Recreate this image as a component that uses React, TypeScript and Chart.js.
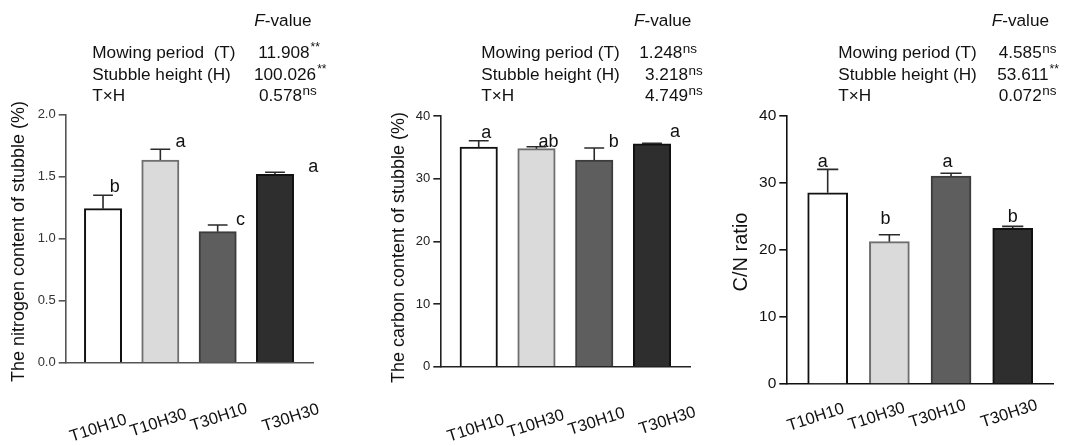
import { useEffect, useRef } from "react";
import { Chart, registerables } from "chart.js";

Chart.register(...registerables);

const FONT = '"Liberation Sans", Arial, Helvetica, sans-serif';
const PAGE_H = 446;

// ---------- data ----------
const categories = ["T10H10", "T10H30", "T30H10", "T30H30"];

const nitrogenValues = [1.24, 1.632, 1.055, 1.517];
const nitrogenErrors = [0.108, 0.086, 0.054, 0.016];
const nitrogenLetters = ["b", "a", "c", "a"];

const carbonValues = [35.06, 34.79, 32.98, 35.54];
const carbonErrors = [1.0, 0.31, 1.92, 0.11];
const carbonLetters = ["a", "ab", "b", "a"];

const cnValues = [28.55, 21.24, 31.04, 23.24];
const cnErrors = [3.49, 1.04, 0.41, 0.29];
const cnLetters = ["a", "b", "a", "b"];

const nitrogenFactors = ["Mowing period  (T)", "Stubble height (H)", "T×H"];
const nitrogenF = ["11.908", "100.026", "0.578"];
const nitrogenSig = ["**", "**", "ns"];

const carbonFactors = ["Mowing period (T)", "Stubble height (H)", "T×H"];
const carbonF = ["1.248", "3.218", "4.749"];
const carbonSig = ["ns", "ns", "ns"];

const cnFactors = ["Mowing period (T)", "Stubble height (H)", "T×H"];
const cnF = ["4.585", "53.611", "0.072"];
const cnSig = ["ns", "**", "ns"];

const nitrogenTicks = { max: 2, step: 0.5, decimals: 1 };
const carbonTicks = { max: 40, step: 10, decimals: 0 };
const cnTicks = { max: 40, step: 10, decimals: 0 };

// ---------- styles ----------
const barFills = ["#ffffff", "#dadada", "#5e5e5e", "#2e2e2e"];
const barBorders = ["#111111", "#6e6e6e", "#3c3c3c", "#111111"];

type Panel = {
  offsetX: number;
  canvasW: number;
  left: number;
  right: number;
  top: number;
  bottom: number;
  xMin: number;
  xMax: number;
  barW: number;
  ticks: { max: number; step: number; decimals: number };
  tickFont: number;
  tickColor: string;
  axisColor: string;
  title: string;
  titleX: number;
  titleY: number;
  titleFont: number;
  values: number[];
  errors: number[];
  letters: string[];
  letterOffsets: number[][];
  labelOffsets: number[][];
  factors: string[];
  fvals: string[];
  sigs: string[];
  labelX: number;
  fX: number;
  valueX: number[];
};

const panels: Panel[] = [
  {
    offsetX: 0,
    canvasW: 360,
    left: 65.7,
    right: 313,
    top: 114.3,
    bottom: 362.7,
    xMin: -0.651,
    xMax: 3.663,
    barW: 37.3,
    ticks: nitrogenTicks,
    tickFont: 13,
    tickColor: "#333",
    axisColor: "#555",
    title: "The nitrogen content of stubble (%)",
    titleX: 19.5,
    titleY: 241.5,
    titleFont: 18,
    values: nitrogenValues,
    errors: nitrogenErrors,
    letters: nitrogenLetters,
    letterOffsets: [[11.7, -3.6], [20.1, -2], [22.8, 0], [38.3, -0.6]],
    labelOffsets: [[-4.7, 65.6], [-1.9, 60.3], [1.3, 54.8], [15.8, 55.3]],
    factors: nitrogenFactors,
    fvals: nitrogenF,
    sigs: nitrogenSig,
    labelX: 92.3,
    fX: 254.3,
    valueX: [258.3, 254, 259],
  },
  {
    offsetX: 360,
    canvasW: 350,
    left: 80.3,
    right: 330.7,
    top: 116,
    bottom: 366.7,
    xMin: -0.665,
    xMax: 3.67,
    barW: 37.5,
    ticks: carbonTicks,
    tickFont: 13,
    tickColor: "#222",
    axisColor: "#222",
    title: "The carbon content of stubble (%)",
    titleX: 39.5,
    titleY: 247.5,
    titleFont: 18,
    values: carbonValues,
    errors: carbonErrors,
    letters: carbonLetters,
    letterOffsets: [[7.5, -3], [12, 0.6], [19.6, -0.7], [23, -6]],
    labelOffsets: [[-2.9, 61.6], [-0.5, 57.3], [2.5, 55], [15.5, 54.1]],
    factors: carbonFactors,
    fvals: carbonF,
    sigs: carbonSig,
    labelX: 121.3,
    fX: 274,
    valueX: [279.3, 285, 285],
  },
  {
    offsetX: 710,
    canvasW: 357,
    left: 76.3,
    right: 343.3,
    top: 116,
    bottom: 384,
    xMin: -0.671,
    xMax: 3.658,
    barW: 40,
    ticks: cnTicks,
    tickFont: 15.5,
    tickColor: "#111",
    axisColor: "#111",
    title: "C/N ratio",
    titleX: 31.5,
    titleY: 252,
    titleFont: 20,
    values: cnValues,
    errors: cnErrors,
    letters: cnLetters,
    letterOffsets: [[-4.9, -2.6], [-3.8, -10.7], [-3.5, -6.6], [0.1, -4.6]],
    labelOffsets: [[-11.9, 33.5], [-12.6, 32.7], [-13.3, 30], [-3.5, 30]],
    factors: cnFactors,
    fvals: cnF,
    sigs: cnSig,
    labelX: 128.3,
    fX: 281.7,
    valueX: [288.7, 287.3, 288.7],
  },
];

const TABLE_F_BASE = 26;
const TABLE_ROW_BASE = [58.3, 80, 100.7];
const TABLE_FONT = 17.2;
const TEXT_COLOR = "#111";

function decorPlugin(p: Panel) {
  return {
    id: "decor",
    afterDatasetsDraw(chart: any) {
      const ctx = chart.ctx as CanvasRenderingContext2D;
      const xs = chart.scales.x;
      const ys = chart.scales.y;
      ctx.save();
      ctx.strokeStyle = "#2a2a2a";
      ctx.lineWidth = 1.6;
      p.values.forEach((v, i) => {
        const x = xs.getPixelForValue(i);
        const top = ys.getPixelForValue(v);
        const et = ys.getPixelForValue(v + p.errors[i]);
        const cap = p.barW * 0.53;
        ctx.beginPath();
        ctx.moveTo(x, top);
        ctx.lineTo(x, et);
        ctx.moveTo(x - cap / 2, et);
        ctx.lineTo(x + cap / 2, et);
        ctx.stroke();
      });
      ctx.restore();
    },
    afterDraw(chart: any) {
      const ctx = chart.ctx as CanvasRenderingContext2D;
      const xs = chart.scales.x;
      const ys = chart.scales.y;
      const area = chart.chartArea;
      ctx.save();
      ctx.fillStyle = TEXT_COLOR;

      // significance letters
      ctx.font = `18px ${FONT}`;
      ctx.textAlign = "center";
      ctx.textBaseline = "alphabetic";
      p.letters.forEach((l, i) => {
        const x = xs.getPixelForValue(i);
        const et = ys.getPixelForValue(p.values[i] + p.errors[i]);
        ctx.fillText(l, x + p.letterOffsets[i][0], et + p.letterOffsets[i][1]);
      });

      // x category labels (rotated)
      ctx.font = `16.5px ${FONT}`;
      ctx.textBaseline = "middle";
      categories.forEach((c, i) => {
        const x = xs.getPixelForValue(i) + p.labelOffsets[i][0];
        const y = area.bottom + p.labelOffsets[i][1];
        ctx.save();
        ctx.translate(x, y);
        ctx.rotate((-18 * Math.PI) / 180);
        ctx.fillText(c, 0, 0);
        ctx.restore();
      });

      // y axis title
      ctx.save();
      ctx.font = `${p.titleFont}px ${FONT}`;
      ctx.translate(p.titleX, p.titleY);
      ctx.rotate(-Math.PI / 2);
      ctx.textAlign = "center";
      ctx.textBaseline = "middle";
      ctx.fillText(p.title, 0, 0);
      ctx.restore();

      // F-value table
      ctx.textAlign = "left";
      ctx.textBaseline = "alphabetic";
      ctx.font = `italic ${TABLE_FONT}px ${FONT}`;
      ctx.fillText("F", p.fX, TABLE_F_BASE);
      const fw = ctx.measureText("F").width;
      ctx.font = `${TABLE_FONT}px ${FONT}`;
      ctx.fillText("-value", p.fX + fw, TABLE_F_BASE);
      p.factors.forEach((f, i) => {
        const base = TABLE_ROW_BASE[i];
        ctx.font = `${TABLE_FONT}px ${FONT}`;
        ctx.fillText(f, p.labelX, base);
        ctx.fillText(p.fvals[i], p.valueX[i], base);
        const w = ctx.measureText(p.fvals[i]).width;
        const s = p.sigs[i];
        if (s === "**") {
          ctx.font = `12px ${FONT}`;
          ctx.fillText(s, p.valueX[i] + w + 1, base - 7);
        } else {
          ctx.font = `13.5px ${FONT}`;
          ctx.fillText(s, p.valueX[i] + w + 0.5, base - 5.5);
        }
      });
      ctx.restore();
    },
  };
}

function makeConfig(p: Panel): any {
  return {
    type: "bar",
    data: {
      datasets: [
        {
          data: categories.map((_, i) => ({ x: i, y: p.values[i] })),
          backgroundColor: barFills,
          borderColor: barBorders,
          borderWidth: 2,
          borderSkipped: "start",
          barThickness: p.barW,
        },
      ],
    },
    options: {
      animation: false,
      responsive: false,
      maintainAspectRatio: false,
      events: [],
      layout: {
        padding: { left: 0, right: p.canvasW - p.right, top: p.top, bottom: 0 },
      },
      plugins: {
        legend: { display: false },
        tooltip: { enabled: false },
        title: { display: false },
      },
      scales: {
        x: {
          type: "linear",
          min: p.xMin,
          max: p.xMax,
          offset: false,
          bounds: "data",
          ticks: { display: false },
          grid: { display: false, offset: false },
          border: { display: true, color: p.axisColor, width: 1.6 },
          afterFit: (s: any) => {
            s.height = PAGE_H - p.bottom;
          },
        },
        y: {
          type: "linear",
          min: 0,
          max: p.ticks.max,
          ticks: {
            stepSize: p.ticks.step,
            padding: 3,
            color: p.tickColor,
            font: { family: FONT, size: p.tickFont },
            callback: (v: number) => Number(v).toFixed(p.ticks.decimals),
          },
          grid: {
            drawOnChartArea: false,
            drawTicks: true,
            tickLength: 7,
            color: p.axisColor,
            lineWidth: 1.6,
          },
          border: { display: true, color: p.axisColor, width: 1.6 },
          afterFit: (s: any) => {
            s.width = p.left;
          },
        },
      },
    },
    plugins: [decorPlugin(p)],
  };
}

function PanelChart({ p }: { p: Panel }) {
  const ref = useRef<HTMLCanvasElement | null>(null);
  useEffect(() => {
    if (!ref.current) return;
    const chart = new Chart(ref.current, makeConfig(p));
    return () => chart.destroy();
  }, [p]);
  return (
    <canvas
      ref={ref}
      width={p.canvasW}
      height={PAGE_H}
      style={{
        position: "absolute",
        left: p.offsetX,
        top: 0,
        width: p.canvasW,
        height: PAGE_H,
      }}
    />
  );
}

export default function App() {
  return (
    <div
      style={{
        position: "absolute",
        left: 0,
        top: 0,
        width: 1067,
        height: PAGE_H,
        background: "#ffffff",
        overflow: "hidden",
      }}
    >
      {panels.map((p, i) => (
        <PanelChart key={i} p={p} />
      ))}
    </div>
  );
}
